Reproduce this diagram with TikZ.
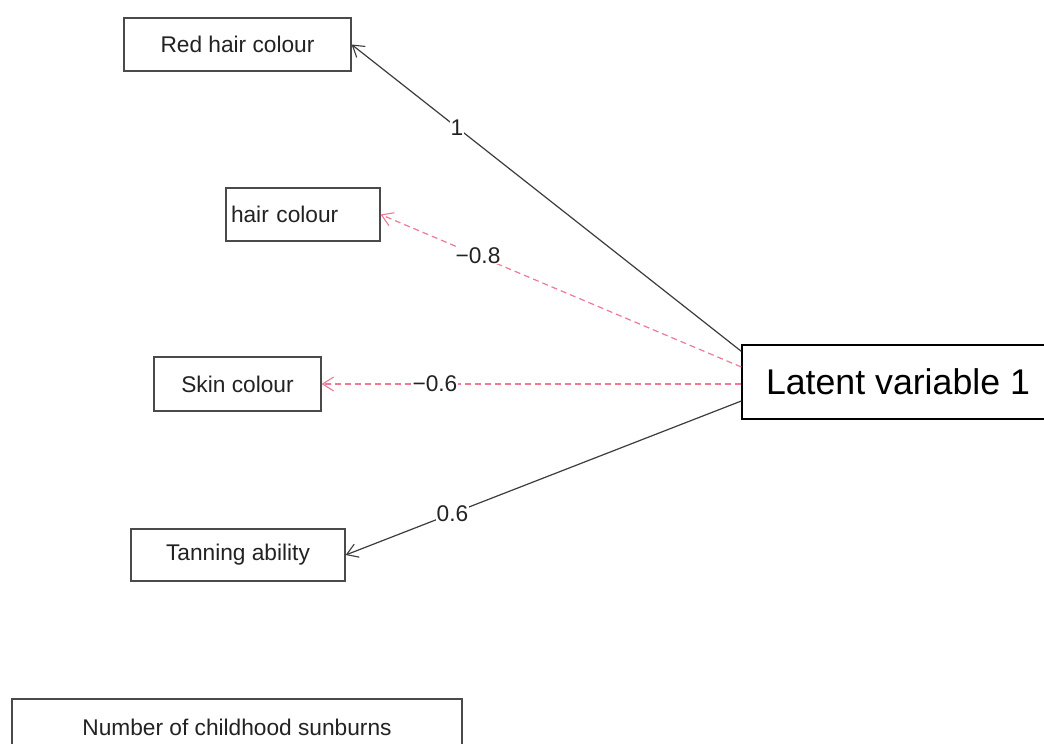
\documentclass[tikz,border=0pt]{standalone}
\usepackage{fontspec}
\setmainfont{Liberation Sans}
\usetikzlibrary{arrows.meta}
\definecolor{edgegray}{HTML}{3C3C3C}
\definecolor{boxgray}{HTML}{4A4A4A}
\definecolor{txtgray}{HTML}{222222}
\definecolor{negpink}{HTML}{EE7A95}
\begin{document}
\begin{tikzpicture}[x=1pt,y=-1pt,
  obsbox/.style={draw=boxgray, line width=1.2pt, rectangle, inner sep=0pt,
    font=\fontsize{22.7}{26}\selectfont, text=txtgray},
  latbox/.style={draw=black, line width=1.4pt, rectangle, inner sep=0pt,
    font=\fontsize{35.7}{40}\selectfont, text=black},
  posedge/.style={draw=edgegray, line width=1.2pt, -{Straight Barb[length=11pt,width=14pt,line width=1.1pt]}},
  negedge/.style={draw=negpink, line width=1.2pt, dash pattern=on 6pt off 4pt, -{Straight Barb[length=11pt,width=14pt,line width=1.1pt]}},
  elabel/.style={fill=white, inner sep=0.5pt, font=\fontsize{22.7}{26}\selectfont, text=txtgray, pos=0.73}
]
\useasboundingbox (0,0) rectangle (1044,744);
\clip (0,0) rectangle (1044,744);
\fill[white] (0,0) rectangle (1044,744);

\node[obsbox, minimum width=227pt, minimum height=53pt] (red) at (237.5,44.5) {Red hair colour};
\node[obsbox, minimum width=154pt, minimum height=53pt, text width=144pt, inner xsep=5pt, align=left] (hair) at (303,214.5) {hair colour};
\node[obsbox, minimum width=167pt, minimum height=54pt] (skin) at (237.5,384) {Skin colour};
\node[obsbox, minimum width=214pt, minimum height=52pt] (tan) at (238,555) {Tanning ability};
\node[obsbox, minimum width=450pt, minimum height=56pt] (sun) at (237,727) {Number of childhood sunburns};
\node[latbox, minimum width=312pt, minimum height=74pt] (lat) at (898,382) {Latent variable 1};

\draw[posedge] ([yshift=-7pt]lat.north west) -- (red.east) node[elabel] (l1) {1};
\draw[negedge] ([yshift=15pt]lat.west) -- (hair.east) node[elabel] (l2) {−0.8};
\draw[negedge] (lat.west |- skin.east) -- (skin.east) node[elabel] (l3) {−0.6};
\draw[posedge] ([yshift=-19pt]lat.west) -- (tan.east) node[elabel] (l4) {0.6};
\end{tikzpicture}
\end{document}
